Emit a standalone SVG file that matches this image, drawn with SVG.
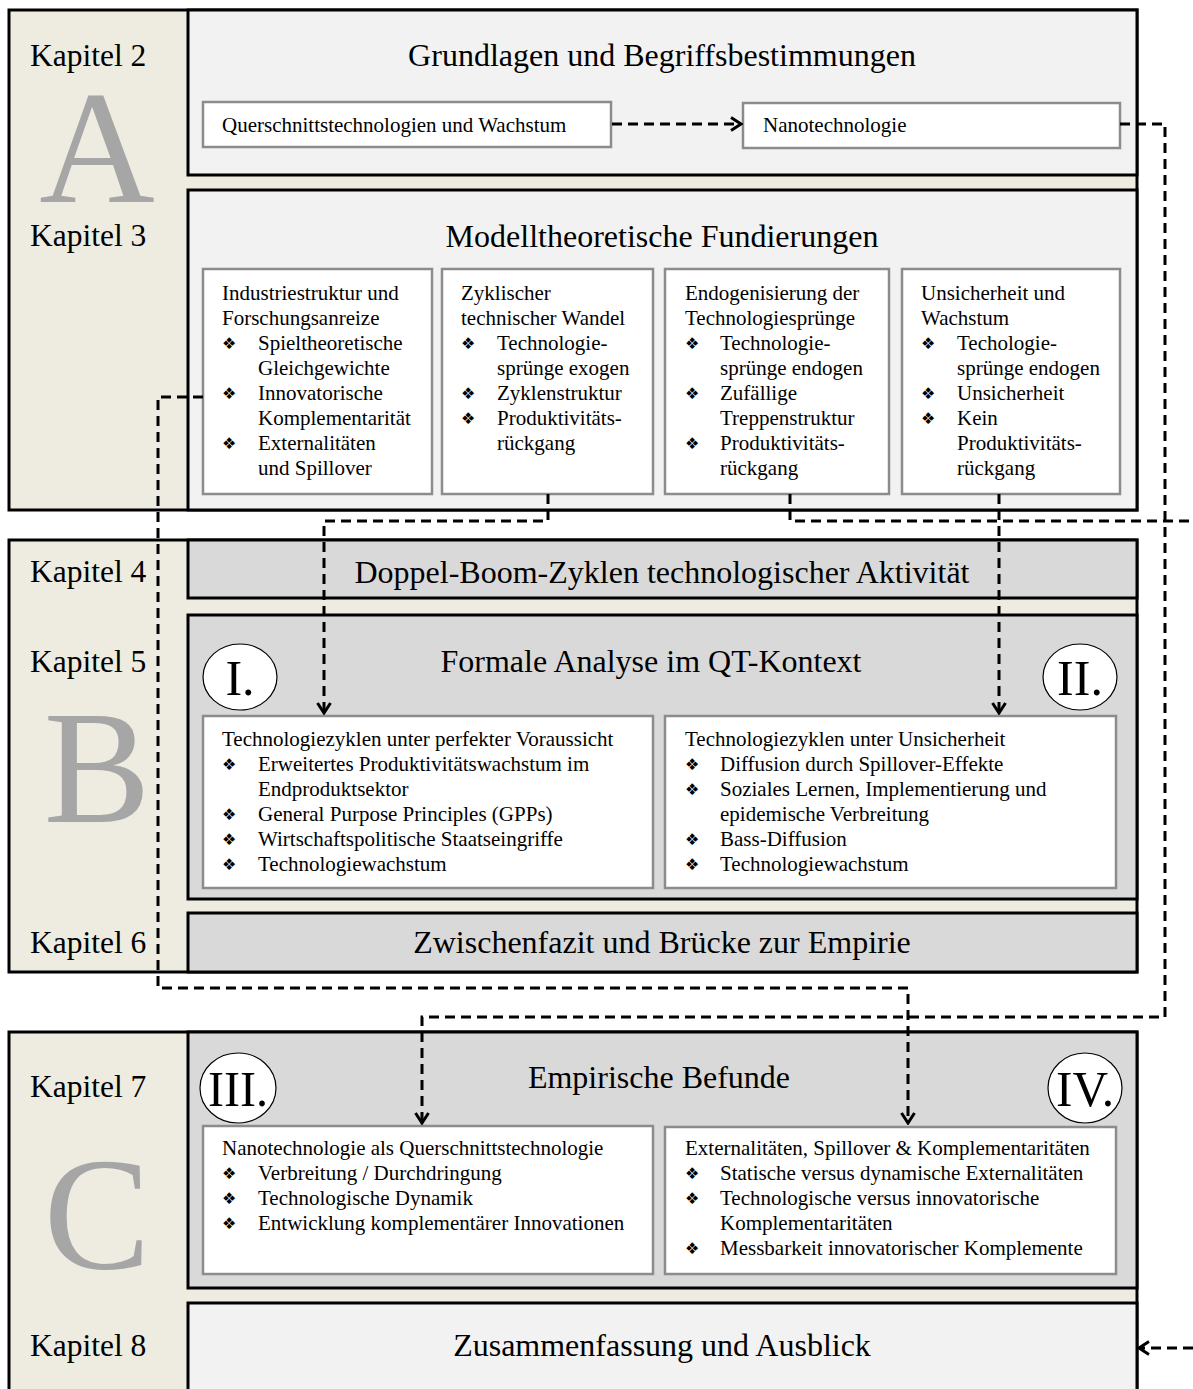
<svg xmlns="http://www.w3.org/2000/svg" width="1193" height="1389" viewBox="0 0 1193 1389">
  <style>
    .panel { fill: #eeece1; stroke: #000; stroke-width: 3; }
    .light { fill: #f2f2f2; stroke: #000; stroke-width: 3; }
    .dark { fill: #d9d9d9; stroke: #000; stroke-width: 3; }
    .box { fill: #fff; stroke: #8c8c8c; stroke-width: 2.5; }
    .kap { font-family: "Liberation Serif", "Times New Roman", serif; font-size: 31.5px; fill: #000; }
    .title { font-family: "Liberation Serif", "Times New Roman", serif; font-size: 32px; fill: #000; text-anchor: middle; }
    .big { font-family: "Liberation Serif", "Times New Roman", serif; font-size: 160px; fill: #a6a6a6; text-anchor: middle; }
    .t { font-family: "Liberation Serif", "Times New Roman", serif; font-size: 21px; fill: #000; }
    .b { font-family: "DejaVu Sans", sans-serif; font-size: 16px; fill: #000; }
    .circ { fill: #fff; stroke: #000; stroke-width: 1.2; }
    .num { font-family: "Liberation Serif", "Times New Roman", serif; font-size: 50px; fill: #000; text-anchor: middle; }
    .conn { fill: none; stroke: #000; stroke-width: 3; stroke-dasharray: 10 6; }
  </style>
  <defs>
    <marker id="arr" viewBox="0 0 14 16" refX="12" refY="8" markerWidth="14" markerHeight="16" orient="auto" markerUnits="userSpaceOnUse">
      <path d="M2,1.5 L12,8 L2,14.5" fill="none" stroke="#000" stroke-width="3" stroke-dasharray="none"/>
    </marker>
  </defs>

  <rect width="1193" height="1389" fill="#fff"/>

  <!-- Teil A: Kapitel 2 und 3 -->
  <g id="teil-a">
    <rect class="panel" x="9" y="10" width="1128" height="500"/>
    <text class="big" x="97" y="202">A</text>
    <text class="kap" x="30" y="66">Kapitel 2</text>
    <text class="kap" x="30" y="246">Kapitel 3</text>
  </g>

  <g id="kapitel-2">
    <rect class="light" x="188" y="10" width="949" height="165"/>
    <text class="title" x="662" y="66">Grundlagen und Begriffsbestimmungen</text>
  </g>
  <g id="querschnitt">
    <rect class="box" x="203" y="102" width="408" height="45"/>
    <text class="t" x="222" y="132">Querschnittstechnologien und Wachstum</text>
  </g>
  <g id="nanotechnologie">
    <rect class="box" x="743" y="103" width="377" height="45"/>
    <text class="t" x="763" y="132">Nanotechnologie</text>
  </g>

  <g id="kapitel-3">
    <rect class="light" x="188" y="190" width="949" height="320"/>
    <text class="title" x="662" y="247">Modelltheoretische Fundierungen</text>
  </g>
  <g id="industriestruktur">
    <rect class="box" x="203" y="269" width="229" height="225"/>
    <text class="t" x="222" y="300">Industriestruktur und</text>
    <text class="t" x="222" y="325">Forschungsanreize</text>
    <text class="b" x="222" y="349">❖</text><text class="t" x="258" y="350">Spieltheoretische</text>
    <text class="t" x="258" y="375">Gleichgewichte</text>
    <text class="b" x="222" y="399">❖</text><text class="t" x="258" y="400">Innovatorische</text>
    <text class="t" x="258" y="425">Komplementarität</text>
    <text class="b" x="222" y="449">❖</text><text class="t" x="258" y="450">Externalitäten</text>
    <text class="t" x="258" y="475">und Spillover</text>
  </g>
  <g id="zyklischer-wandel">
    <rect class="box" x="442" y="269" width="211" height="225"/>
    <text class="t" x="461" y="300">Zyklischer</text>
    <text class="t" x="461" y="325">technischer Wandel</text>
    <text class="b" x="461" y="349">❖</text><text class="t" x="497" y="350">Technologie-</text>
    <text class="t" x="497" y="375">sprünge exogen</text>
    <text class="b" x="461" y="399">❖</text><text class="t" x="497" y="400">Zyklenstruktur</text>
    <text class="b" x="461" y="424">❖</text><text class="t" x="497" y="425">Produktivitäts-</text>
    <text class="t" x="497" y="450">rückgang</text>
  </g>
  <g id="endogenisierung">
    <rect class="box" x="665" y="269" width="224" height="225"/>
    <text class="t" x="685" y="300">Endogenisierung der</text>
    <text class="t" x="685" y="325">Technologiesprünge</text>
    <text class="b" x="685" y="349">❖</text><text class="t" x="720" y="350">Technologie-</text>
    <text class="t" x="720" y="375">sprünge endogen</text>
    <text class="b" x="685" y="399">❖</text><text class="t" x="720" y="400">Zufällige</text>
    <text class="t" x="720" y="425">Treppenstruktur</text>
    <text class="b" x="685" y="449">❖</text><text class="t" x="720" y="450">Produktivitäts-</text>
    <text class="t" x="720" y="475">rückgang</text>
  </g>
  <g id="unsicherheit-wachstum">
    <rect class="box" x="902" y="269" width="218" height="225"/>
    <text class="t" x="921" y="300">Unsicherheit und</text>
    <text class="t" x="921" y="325">Wachstum</text>
    <text class="b" x="921" y="349">❖</text><text class="t" x="957" y="350">Techologie-</text>
    <text class="t" x="957" y="375">sprünge endogen</text>
    <text class="b" x="921" y="399">❖</text><text class="t" x="957" y="400">Unsicherheit</text>
    <text class="b" x="921" y="424">❖</text><text class="t" x="957" y="425">Kein</text>
    <text class="t" x="957" y="450">Produktivitäts-</text>
    <text class="t" x="957" y="475">rückgang</text>
  </g>

  <!-- Teil B: Kapitel 4 bis 6 -->
  <g id="teil-b">
    <rect class="panel" x="9" y="540" width="1128" height="432"/>
    <text class="big" x="97" y="822">B</text>
    <text class="kap" x="30" y="582">Kapitel 4</text>
    <text class="kap" x="30" y="672">Kapitel 5</text>
    <text class="kap" x="30" y="953">Kapitel 6</text>
  </g>
  <g id="kapitel-4">
    <rect class="dark" x="188" y="540" width="949" height="58"/>
    <text class="title" x="662" y="583">Doppel-Boom-Zyklen technologischer Aktivität</text>
  </g>
  <g id="kapitel-5">
    <rect class="dark" x="188" y="615" width="949" height="284"/>
    <text class="title" x="651" y="672">Formale Analyse im QT-Kontext</text>
    <ellipse class="circ" cx="240" cy="677" rx="37" ry="33"/>
    <text class="num" x="240" y="695">I.</text>
    <ellipse class="circ" cx="1080" cy="677" rx="37" ry="33"/>
    <text class="num" x="1080" y="695">II.</text>
  </g>
  <g id="perfekte-voraussicht">
    <rect class="box" x="203" y="716" width="450" height="172"/>
    <text class="t" x="222" y="746">Technologiezyklen unter perfekter Voraussicht</text>
    <text class="b" x="222" y="770">❖</text><text class="t" x="258" y="771">Erweitertes Produktivitätswachstum im</text>
    <text class="t" x="258" y="796">Endproduktsektor</text>
    <text class="b" x="222" y="820">❖</text><text class="t" x="258" y="821">General Purpose Principles (GPPs)</text>
    <text class="b" x="222" y="845">❖</text><text class="t" x="258" y="846">Wirtschaftspolitische Staatseingriffe</text>
    <text class="b" x="222" y="870">❖</text><text class="t" x="258" y="871">Technologiewachstum</text>
  </g>
  <g id="unsicherheit">
    <rect class="box" x="665" y="716" width="451" height="172"/>
    <text class="t" x="685" y="746">Technologiezyklen unter Unsicherheit</text>
    <text class="b" x="685" y="770">❖</text><text class="t" x="720" y="771">Diffusion durch Spillover-Effekte</text>
    <text class="b" x="685" y="795">❖</text><text class="t" x="720" y="796">Soziales Lernen, Implementierung und</text>
    <text class="t" x="720" y="821">epidemische Verbreitung</text>
    <text class="b" x="685" y="845">❖</text><text class="t" x="720" y="846">Bass-Diffusion</text>
    <text class="b" x="685" y="870">❖</text><text class="t" x="720" y="871">Technologiewachstum</text>
  </g>
  <g id="kapitel-6">
    <rect class="dark" x="188" y="913" width="949" height="59"/>
    <text class="title" x="662" y="953">Zwischenfazit und Brücke zur Empirie</text>
  </g>

  <!-- Teil C: Kapitel 7 und 8 -->
  <g id="teil-c">
    <rect class="panel" x="9" y="1032" width="1128" height="360"/>
    <text class="big" x="97" y="1268">C</text>
    <text class="kap" x="30" y="1097">Kapitel 7</text>
    <text class="kap" x="30" y="1356">Kapitel 8</text>
  </g>
  <g id="kapitel-7">
    <rect class="dark" x="188" y="1032" width="949" height="256"/>
    <text class="title" x="659" y="1088">Empirische Befunde</text>
    <ellipse class="circ" cx="238" cy="1088" rx="38" ry="35"/>
    <text class="num" x="238" y="1106" textLength="60" lengthAdjust="spacingAndGlyphs">III.</text>
    <ellipse class="circ" cx="1085" cy="1088" rx="37" ry="35"/>
    <text class="num" x="1085" y="1106" textLength="58" lengthAdjust="spacingAndGlyphs">IV.</text>
  </g>
  <g id="querschnittstechnologie">
    <rect class="box" x="203" y="1126" width="450" height="148"/>
    <text class="t" x="222" y="1155">Nanotechnologie als Querschnittstechnologie</text>
    <text class="b" x="222" y="1179">❖</text><text class="t" x="258" y="1180">Verbreitung / Durchdringung</text>
    <text class="b" x="222" y="1204">❖</text><text class="t" x="258" y="1205">Technologische Dynamik</text>
    <text class="b" x="222" y="1229">❖</text><text class="t" x="258" y="1230">Entwicklung komplementärer Innovationen</text>
  </g>
  <g id="externalitaeten">
    <rect class="box" x="665" y="1127" width="451" height="147"/>
    <text class="t" x="685" y="1155">Externalitäten, Spillover &amp; Komplementaritäten</text>
    <text class="b" x="685" y="1179">❖</text><text class="t" x="720" y="1180">Statische versus dynamische Externalitäten</text>
    <text class="b" x="685" y="1204">❖</text><text class="t" x="720" y="1205">Technologische versus innovatorische</text>
    <text class="t" x="720" y="1230">Komplementaritäten</text>
    <text class="b" x="685" y="1254">❖</text><text class="t" x="720" y="1255">Messbarkeit innovatorischer Komplemente</text>
  </g>
  <g id="kapitel-8">
    <rect class="light" x="188" y="1303" width="949" height="89"/>
    <text class="title" x="662" y="1356">Zusammenfassung und Ausblick</text>
  </g>

  <!-- Verbindungen -->
  <g id="connectors">
    <path class="conn" d="M612,124 H741" marker-end="url(#arr)"/>
    <path class="conn" d="M1120,124 H1165 V1017 H422 V1123" marker-end="url(#arr)"/>
    <path class="conn" d="M203,397 H158 V988 H908 V1123" marker-end="url(#arr)"/>
    <path class="conn" d="M548,494 V521 H324 V713" marker-end="url(#arr)"/>
    <path class="conn" d="M790,494 V521 H1193"/>
    <path class="conn" d="M999,494 V713" marker-end="url(#arr)"/>
    <path class="conn" d="M1193,1348 H1139" marker-end="url(#arr)"/>
  </g>
</svg>
